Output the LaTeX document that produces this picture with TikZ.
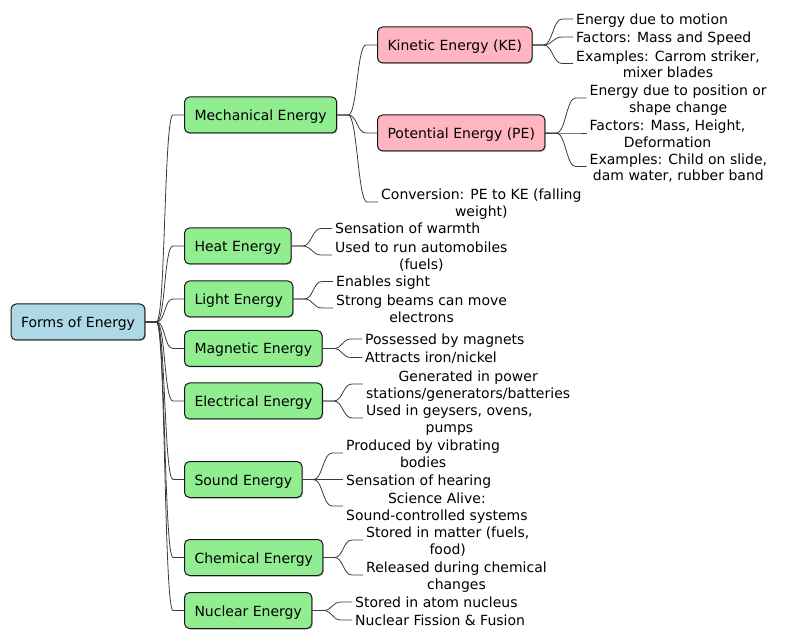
\documentclass[tikz,border=0pt]{standalone}
\usepackage{fontspec}
\setmainfont{DejaVu Sans}
\usetikzlibrary{calc,shadows}
\definecolor{rootc}{HTML}{ADD8E6}
\definecolor{greenc}{HTML}{90EE90}
\definecolor{pinkc}{HTML}{FFB6C1}
\definecolor{linec}{HTML}{181818}
\newcommand\topstrut{\rule{0pt}{15.5pt}}
\newcommand\botstrut{\rule[-3.5pt]{0pt}{3.5pt}}
\tikzset{
 txt/.style={font=\fontsize{14}{16.5}\selectfont, execute at begin node={\rule{0pt}{14.5pt}}, execute at end node={\rule[-3.5pt]{0pt}{3.5pt}}},
 box/.style={txt, draw=linec, line width=1pt, rounded corners=5pt, inner xsep=10pt, inner ysep=0pt, minimum height=36pt, anchor=west, drop shadow={shadow xshift=1pt, shadow yshift=-1pt, fill=black, opacity=0.25}},
 rootbox/.style={box, fill=rootc},
 catbox/.style={box, fill=greenc},
 subbox/.style={box, fill=pinkc},
 leaf/.style={txt, anchor=west, inner xsep=3pt, inner ysep=0pt, align=center},
 leafm/.style={anchor=west, inner xsep=3pt, inner ysep=0pt, align=center, font=\fontsize{14}{16.5}\selectfont},
 edge/.style={draw=linec!85, line width=0.8pt},
}
\newcommand\mmlink[2]{\draw[edge] (#1.east) -- ++(11pt,0) .. controls +(9pt,0) and +(-9pt,0) .. ($(#2.west)+(-11pt,0)$) -- (#2.west);}
\begin{document}
\begin{tikzpicture}[x=1pt,y=-1pt]
\useasboundingbox (0,0) rectangle (785,644);
% boxes
\node[rootbox] (root) at (10.5,322) {Forms of Energy};
\node[catbox] (mech) at (184,115) {Mechanical Energy};
\node[catbox] (heat) at (184,246) {Heat Energy};
\node[catbox] (light) at (184,299) {Light Energy};
\node[catbox] (mag) at (184,348.5) {Magnetic Energy};
\node[catbox] (elec) at (184,401) {Electrical Energy};
\node[catbox] (sound) at (184,479.5) {Sound Energy};
\node[catbox] (chem) at (184,557.5) {Chemical Energy};
\node[catbox] (nuc) at (184,610.5) {Nuclear Energy};
\node[subbox] (ke) at (377,45) {Kinetic Energy (KE)};
\node[subbox] (pe) at (377,133) {Potential Energy (PE)};
% leaves
\node[leaf] (k1) at (573,19) {Energy due to motion};
\node[leaf] (k2) at (573,37) {Factors: Mass and Speed};
\node[leafm] (k3) at (573,63.5) {\topstrut Examples: Carrom striker,\\mixer blades\botstrut};
\node[leafm] (p1) at (586.5,98) {\topstrut Energy due to position or\\shape change\botstrut};
\node[leafm] (p2) at (586.5,133) {\topstrut Factors: Mass, Height,\\Deformation\botstrut};
\node[leafm] (p3) at (586.5,166.5) {\topstrut Examples: Child on slide,\\dam water, rubber band\botstrut};
\node[leafm] (conv) at (378,202) {\topstrut Conversion: PE to KE (falling\\weight)\botstrut};
\node[leaf] (h1) at (332,228.5) {Sensation of warmth};
\node[leafm] (h2) at (332,255) {\topstrut Used to run automobiles\\(fuels)\botstrut};
\node[leaf] (l1) at (333,281.5) {Enables sight};
\node[leafm] (l2) at (333,308) {\topstrut Strong beams can move\\electrons\botstrut};
\node[leaf] (m1) at (362,339) {Possessed by magnets};
\node[leaf] (m2) at (362,357.5) {Attracts iron/nickel};
\node[leafm] (e1) at (363,384) {\topstrut Generated in power\\stations/generators/batteries\botstrut};
\node[leafm] (e2) at (363,418) {\topstrut Used in geysers, ovens,\\pumps\botstrut};
\node[leafm] (s1) at (343,453) {\topstrut Produced by vibrating\\bodies\botstrut};
\node[leaf] (s2) at (343,479.5) {Sensation of hearing};
\node[leafm] (s3) at (343,506) {\topstrut Science Alive:\\Sound-controlled systems\botstrut};
\node[leafm] (c1) at (363,540) {\topstrut Stored in matter (fuels,\\food)\botstrut};
\node[leafm] (c2) at (363,575) {\topstrut Released during chemical\\changes\botstrut};
\node[leaf] (n1) at (352,602) {Stored in atom nucleus};
\node[leaf] (n2) at (352,620) {Nuclear Fission \& Fusion};
% connectors
\mmlink{root}{mech}\mmlink{root}{heat}\mmlink{root}{light}\mmlink{root}{mag}
\mmlink{root}{elec}\mmlink{root}{sound}\mmlink{root}{chem}\mmlink{root}{nuc}
\mmlink{mech}{ke}\mmlink{mech}{pe}\mmlink{mech}{conv}
\mmlink{ke}{k1}\mmlink{ke}{k2}\mmlink{ke}{k3}
\mmlink{pe}{p1}\mmlink{pe}{p2}\mmlink{pe}{p3}
\mmlink{heat}{h1}\mmlink{heat}{h2}
\mmlink{light}{l1}\mmlink{light}{l2}
\mmlink{mag}{m1}\mmlink{mag}{m2}
\mmlink{elec}{e1}\mmlink{elec}{e2}
\mmlink{sound}{s1}\mmlink{sound}{s2}\mmlink{sound}{s3}
\mmlink{chem}{c1}\mmlink{chem}{c2}
\mmlink{nuc}{n1}\mmlink{nuc}{n2}
\end{tikzpicture}
\end{document}
